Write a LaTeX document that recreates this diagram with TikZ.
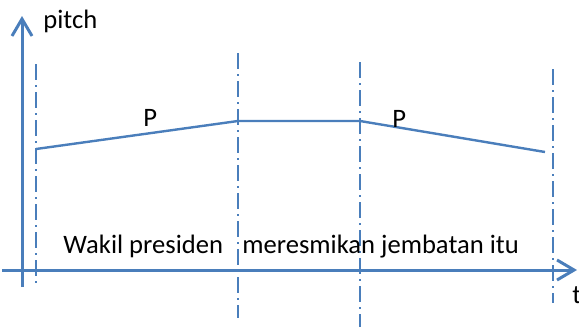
\documentclass[tikz,border=0pt]{standalone}
\usepackage{fontspec}
\setmainfont{Carlito}
\usetikzlibrary{arrows.meta}
\definecolor{lineblue}{RGB}{74,126,187}
\tikzset{
  axisline/.style={draw=lineblue,line width=1.5pt,-{Straight Barb[length=8.5pt,width=10pt]}},
  boundary/.style={draw=lineblue,line width=1.1pt,dash pattern=on 8pt off 2.5pt on 1pt off 2.5pt},
  contour/.style={draw=lineblue,line width=1.2pt},
  lbl/.style={inner sep=0pt,anchor=base west,font=\fontsize{13.3}{16}\selectfont}
}
\begin{document}
\begin{tikzpicture}[x=0.5pt,y=-0.5pt]
  \useasboundingbox (0,0) rectangle (579,327);
  % Axes
  \coordinate (ybot) at (22,287);
  \coordinate (ytop) at (22,16);
  \coordinate (xleft) at (2,270);
  \coordinate (xright) at (577,270);
  \draw[axisline] (ybot) -- (ytop);
  \draw[axisline] (xleft) -- (xright);
  \node[lbl] (pitch) at (43,28) {pitch};
  \node[lbl] (time) at (572,303) {t};
  % Word boundaries
  \foreach \x/\ya/\yb in {36/64/285, 238/53/318, 360/62/327, 553/69/303} {
    \draw[boundary] (\x,\ya) -- (\x,\yb);
  }
  % Pitch contour
  \coordinate (c1) at (36,149);
  \coordinate (c2) at (238,121);
  \coordinate (c3) at (360,121);
  \coordinate (c4) at (545,152);
  \draw[contour] (c1) -- (c2) -- (c3) -- (c4);
  \node[lbl] (p1) at (143,126) {P};
  \node[lbl] (p2) at (392,127) {P};
  % Words
  \node[lbl] (subj) at (63,253) {Wakil presiden};
  \node[lbl] (pred) at (242,253) {meresmikan jembatan itu};
\end{tikzpicture}
\end{document}
